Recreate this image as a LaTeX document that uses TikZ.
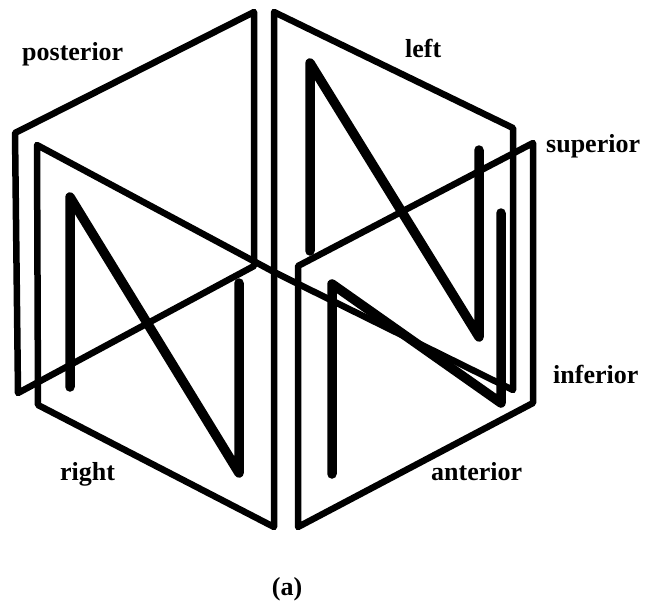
\documentclass[tikz,border=0pt]{standalone}
\usepackage{fontspec}
\setmainfont{Liberation Serif}
\begin{document}
\begin{tikzpicture}[x=1pt,y=-1pt,
  panel/.style={line width=6.5pt, line join=round, line cap=round},
  nstroke/.style={line width=9.5pt, line join=round, line cap=round},
  lab/.style={font=\fontsize{26}{26}\selectfont\bfseries, inner sep=0pt, anchor=base west}]
\useasboundingbox (0,0) rectangle (648,608);
% panels
\draw[panel] (15,133) -- (254,12) -- (254,266) -- (18,393) -- cycle; % posterior
\draw[panel] (37,145) -- (274,272) -- (274,527) -- (38,405) -- cycle; % right
\draw[panel] (274,12) -- (513,128) -- (513,390) -- (274,272) -- cycle; % left
\draw[panel] (298,266) -- (533,143) -- (533,403) -- (298,527) -- cycle; % anterior
% N letters
\draw[nstroke] (70,387) -- (70,197) -- (239,473) -- (239,283);
\draw[nstroke] (310,251) -- (310,63) -- (479,337) -- (479,150);
\draw[nstroke] (332,474) -- (332,284) -- (501,403) -- (501,213);
% labels
\node[lab] (lpost) at (22,60) {posterior};
\node[lab] (lleft) at (405,57) {left};
\node[lab] (lsup) at (546,152) {superior};
\node[lab] (linf) at (553,383) {inferior};
\node[lab] (lright) at (60,480) {right};
\node[lab] (lant) at (431,480) {anterior};
\node[lab, anchor=base] (lcap) at (287,595) {(a)};
\end{tikzpicture}
\end{document}
